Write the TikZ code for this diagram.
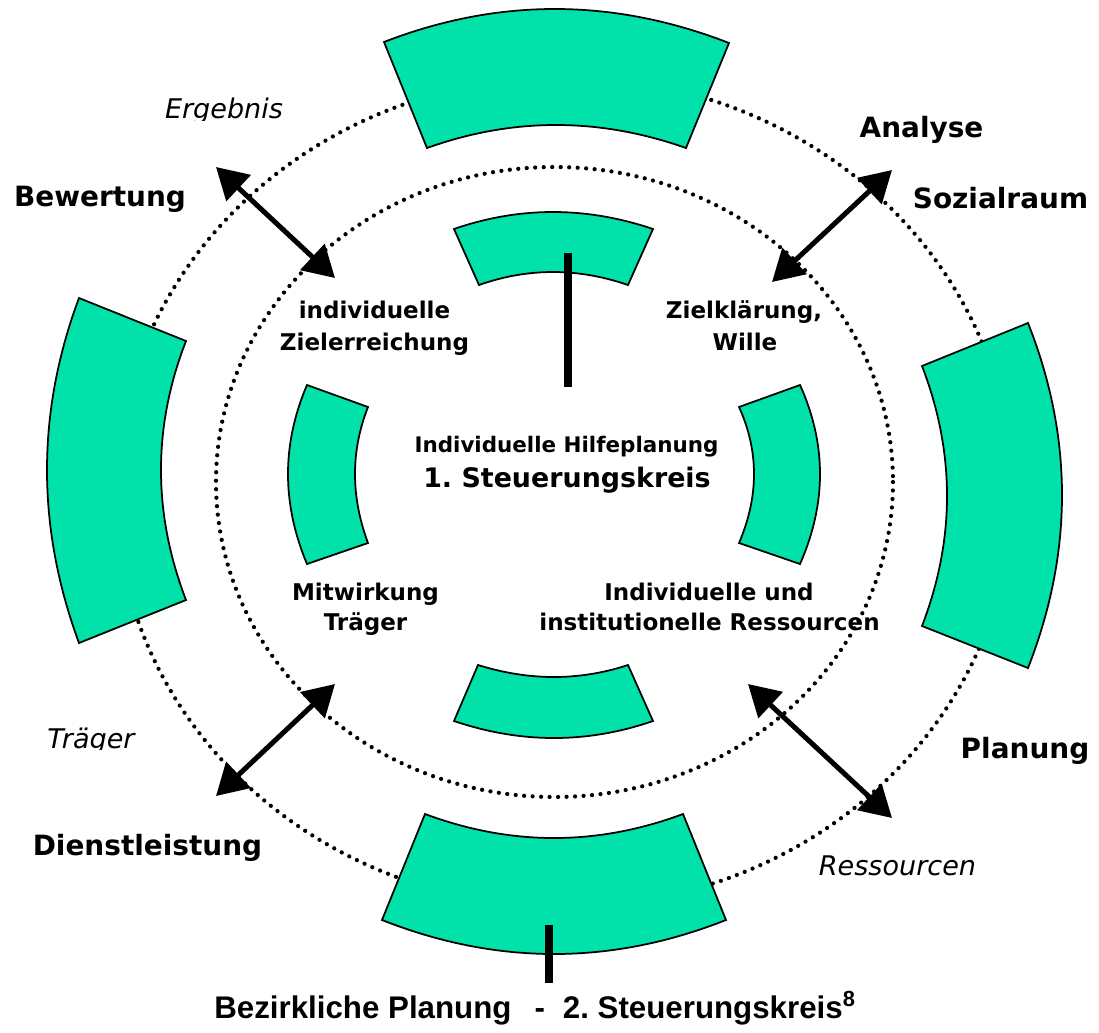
\documentclass[tikz,border=0pt]{standalone}
\usepackage{fontspec}
\setmainfont{DejaVu Sans}
\newfontfamily\bottomfont{Liberation Sans}
\usetikzlibrary{arrows.meta,calc}
\definecolor{segfill}{HTML}{00E2A9}
\frenchspacing

% annular segment: outer corner A, outer apex, outer corner B, inner corner C, inner apex, inner corner D
\newcommand\greenseg[6]{%
  \filldraw[seg] (#1) .. controls ($ {4/3}*(#2) - {1/3}*(#3) $) and ($ {4/3}*(#2) - {1/3}*(#1) $) .. (#3)
    -- (#4) .. controls ($ {4/3}*(#5) - {1/3}*(#6) $) and ($ {4/3}*(#5) - {1/3}*(#4) $) .. (#6) -- cycle;}

\begin{document}
\begin{tikzpicture}[x=0.02cm, y=-0.02cm,
  seg/.style={fill=segfill, draw=black, line width=0.035cm, line join=miter},
  dots/.style={draw=black, line width=0.085cm, line cap=round, dash pattern=on 0pt off 0.17cm},
  bar/.style={line width=0.155cm},
  arr/.style={line width=0.1cm, {Triangle[length=0.62cm, width=0.7cm]}-{Triangle[length=0.62cm, width=0.7cm]}},
  biglab/.style={anchor=base, inner sep=0pt, font=\bfseries\fontsize{15.9}{19}\selectfont},
  itlab/.style={anchor=base, inner sep=0pt, font=\itshape\fontsize{15.4}{18}\selectfont},
  inlab/.style={anchor=base, inner sep=0pt, font=\bfseries\fontsize{13.1}{16}\selectfont},
  hilfe/.style={anchor=base, inner sep=0pt, font=\bfseries\fontsize{12.2}{15}\selectfont},
  kreis/.style={anchor=base, inner sep=0pt, font=\bfseries\fontsize{15.3}{18}\selectfont},
  bottomlab/.style={anchor=base west, inner sep=0pt, font=\bottomfont\bfseries\fontsize{17.8}{21}\selectfont}]

\fill[white] (0,0) rectangle (1099,1032);
\useasboundingbox (0,0) rectangle (1099,1032);

% dotted rings
\draw[dots] (564,492) ellipse [x radius=448, y radius=415];
\draw[dots] (554.5,482) ellipse [x radius=338.5, y radius=315];

% outer ring segments
\greenseg{384,42}{556,9}{729,43}{686,148}{556,125}{427,148}
\greenseg{1028,323}{1062,495}{1028,668}{922,626}{947,496}{922,366}
\greenseg{726,920}{554,954}{382,920}{425,814}{554,838}{683,814}
\greenseg{79,643}{47,470}{79,298}{186,341}{161,470}{186,600}

% inner ring segments
\greenseg{454,229}{553,212}{653,229}{628,285}{553,272}{479,285}
\greenseg{800,385}{820,474}{800,564}{739,543}{754,474}{739,407}
\greenseg{653,721}{554,738}{454,721}{478,665}{554,677}{628,665}
\greenseg{307,564}{288,474}{307,385}{368,407}{355,474}{368,543}

% pointers
\coordinate (barTa) at (568,253);
\coordinate (barTb) at (568,387);
\coordinate (barBa) at (549,925);
\coordinate (barBb) at (549,983);
\draw[bar] (barTa) -- (barTb);
\draw[bar] (barBa) -- (barBb);

% double arrows between the rings
\coordinate (ulOut) at (216,167);
\coordinate (ulIn)  at (335,278);
\coordinate (urOut) at (892,170);
\coordinate (urIn)  at (772,282);
\coordinate (llOut) at (216,796);
\coordinate (llIn)  at (335,684);
\coordinate (lrOut) at (892,818);
\coordinate (lrIn)  at (748,684);
\draw[arr] (ulOut) -- (ulIn);
\draw[arr] (urOut) -- (urIn);
\draw[arr] (llOut) -- (llIn);
\draw[arr] (lrOut) -- (lrIn);

% outer labels
\node[biglab] (bewertung) at (100,206) {Bewertung};
\node[biglab] (analyse) at (921.5,137) {Analyse};
\node[biglab] (sozialraum) at (1000.5,208) {Sozialraum};
\node[biglab] (planung) at (1025,758) {Planung};
\node[biglab] (dienst) at (147.5,855) {Dienstleistung};

\begin{scope}
  \clip (140,80) rectangle (320,120);
  \node[itlab] (ergebnis) at (224,118) {Ergebnis};
\end{scope}
\begin{scope}
  \clip (30,700) rectangle (160,749);
  \node[itlab] (traegerit) at (91,748) {Träger};
\end{scope}
\node[itlab] (ressourcen) at (897.5,875) {Ressourcen};

% inner labels
\node[inlab] (zielA) at (374.5,318) {individuelle};
\node[inlab] (zielB) at (374.5,350) {Zielerreichung};
\node[inlab] (willeA) at (744,318) {Zielklärung,};
\node[inlab] (willeB) at (745,350) {Wille};
\node[inlab] (mitA) at (365.5,600) {Mitwirkung};
\node[inlab] (mitB) at (365.5,630) {Träger};
\node[inlab] (resA) at (709,600) {Individuelle und};
\node[inlab] (resB) at (709.5,630) {institutionelle Ressourcen};

\node[hilfe] (hilfe) at (566.5,452) {Individuelle Hilfeplanung};
\node[kreis] (kreis1) at (567,487) {1. Steuerungskreis};

\node[bottomlab] (kreis2) at (214,1018) {Bezirkliche Planung\hspace{0.46cm}-\hspace{0.36cm}2. Steuerungskreis\textsuperscript{8}};
\end{tikzpicture}
\end{document}
